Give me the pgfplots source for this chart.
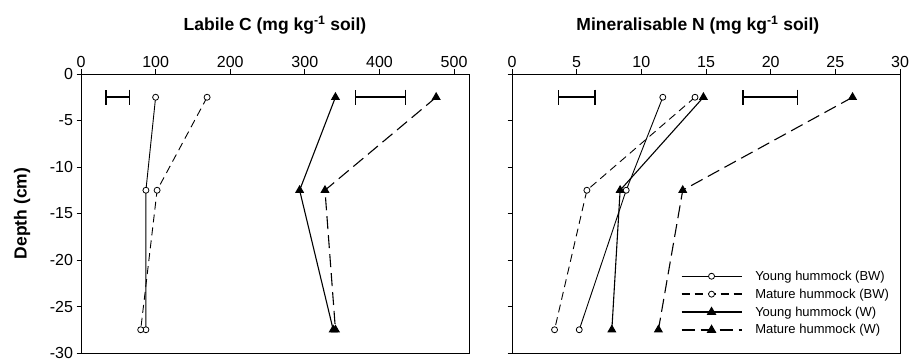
\documentclass[border=0pt]{standalone}
\usepackage{pgfplots}
\pgfplotsset{compat=1.18}
\usepackage{fontspec}
\setmainfont{Liberation Sans}

\pgfplotsset{
  myaxis/.style={
    scale only axis, width=388pt, height=279pt,
    ymin=-30, ymax=0, ytick={-30,-25,...,0},
    axis line style={black, line width=0.8pt},
    tick align=outside, major tick length=4.5pt,
    xtick pos=upper, xticklabel pos=upper, ytick pos=left,
    tick style={black, line width=0.8pt},
    /pgf/number format/assume math mode=true,
    tick label style={font=\fontsize{16}{19}\selectfont},
    xticklabel style={yshift=-1.5pt},
    title style={font=\bfseries\fontsize{17.5}{21}\selectfont, anchor=base, yshift=37.5pt},
    clip=false,
  },
  ybw/.style={black, line width=0.9pt, mark=*, mark size=3pt, mark options={fill=white, solid, line width=0.8pt}},
  mbw/.style={black, line width=0.9pt, dash pattern=on 8pt off 5pt, mark=*, mark size=3pt, mark options={fill=white, solid, line width=0.8pt}},
  yw/.style={black, line width=1.1pt, mark=triangle*, mark size=4.2pt, mark options={fill=black, solid}},
  mw/.style={black, line width=1.1pt, dash pattern=on 13pt off 6pt, mark=triangle*, mark size=4.2pt, mark options={fill=black, solid}},
  ebar/.style={forget plot, mark=none, black, line width=1.3pt,
    error bars/.cd, x dir=both, x explicit, error mark=|,
    error bar style={line width=1.8pt, solid},
    error mark options={mark size=7.5pt, line width=1.8pt}},
}

\begin{document}
\begin{tikzpicture}
\useasboundingbox (0,0) rectangle (918pt,359pt);

% ---------------- Left: Labile C
\begin{axis}[myaxis, at={(81pt,6pt)}, anchor=south west,
  xmin=0, xmax=520, xtick={0,100,...,500},
  title={Labile C (mg kg\textsuperscript{-1} soil)},
  ylabel={\bfseries Depth (cm)},
  ylabel style={font=\bfseries\fontsize{17.5}{21}\selectfont, at={(axis description cs:-0.152,0.5)}, anchor=center},
]
\addplot[ybw] coordinates {(100,-2.5) (87,-12.5) (87,-27.5)};
\addplot[mbw] coordinates {(169,-2.5) (102,-12.5) (80,-27.5)};
\addplot[yw] coordinates {(341,-2.5) (293,-12.5) (338,-27.5)};
\addplot[mw] coordinates {(476,-2.5) (327,-12.5) (341,-27.5)};
\addplot[ebar] coordinates {(49.5,-2.5) +- (15.5,0)};
\addplot[ebar] coordinates {(401.5,-2.5) +- (33.5,0)};
\end{axis}

% ---------------- Right: Mineralisable N
\begin{axis}[myaxis, at={(512pt,6pt)}, anchor=south west,
  xmin=0, xmax=30, xtick={0,5,...,30},
  yticklabels={},
  title={Mineralisable N (mg kg\textsuperscript{-1} soil)},
  title style={at={(axis description cs:0.479,1)}},
  legend style={draw=none, fill=none, at={(axis description cs:0.977,0.055)}, anchor=south east,
    font=\fontsize{13}{15}\selectfont, row sep=3pt, inner sep=0pt, cells={anchor=west},
    /tikz/every odd column/.append style={column sep=11pt}},
  legend image code/.code={\draw[mark repeat=2,mark phase=2,#1,line width=1.4pt] plot coordinates {(0pt,0pt) (30pt,0pt) (60pt,0pt)};},
]
\addplot[ybw] coordinates {(11.66,-2.5) (8.83,-12.5) (5.2,-27.5)};
\addlegendentry{Young hummock (BW)}
\addplot[mbw] coordinates {(14.15,-2.5) (5.79,-12.5) (3.29,-27.5)};
\addlegendentry{Mature hummock (BW)}
\addplot[yw] coordinates {(14.8,-2.5) (8.36,-12.5) (7.72,-27.5)};
\addlegendentry{Young hummock (W)}
\addplot[mw] coordinates {(26.33,-2.5) (13.2,-12.5) (11.32,-27.5)};
\addlegendentry{Mature hummock (W)}
\addplot[ebar] coordinates {(5.0,-2.5) +- (1.4,0)};
\addplot[ebar] coordinates {(19.96,-2.5) +- (2.12,0)};
\end{axis}
\end{tikzpicture}
\end{document}
